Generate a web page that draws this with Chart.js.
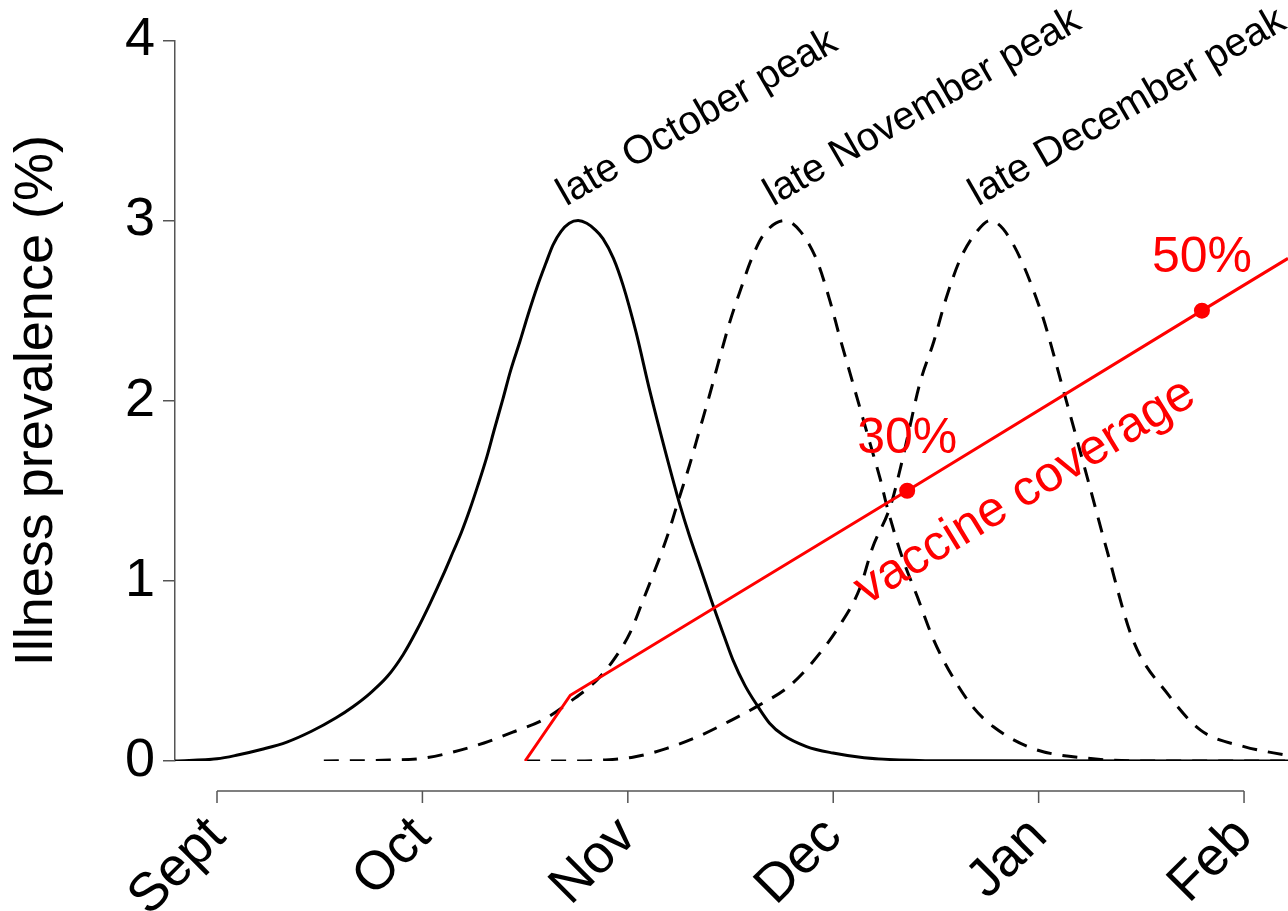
<!DOCTYPE html>
<html>
<head>
<meta charset="utf-8">
<script src="https://cdn.jsdelivr.net/npm/chart.js@4/dist/chart.umd.min.js"></script>
<style>
  html, body { margin: 0; padding: 0; background: #fff; }
  canvas { display: block; }
</style>
</head>
<body>
<canvas id="grafico" width="1288" height="911"></canvas>
<script>
// x values are months counted from 1 Sept
const monthNames = ['Sept', 'Oct', 'Nov', 'Dec', 'Jan', 'Feb'];
const monthTicks = [0, 1, 2, 3, 4, 5];

// late October peak (solid)
const octX = [-0.204, 0.0, 0.10, 0.22, 0.34, 0.46, 0.58, 0.66, 0.745, 0.83, 0.906, 0.97, 1.037, 1.10, 1.149, 1.19, 1.232, 1.27, 1.314, 1.35, 1.392, 1.43, 1.475, 1.515, 1.558, 1.60, 1.636, 1.675, 1.715, 1.758, 1.80, 1.84, 1.879, 1.93, 1.977, 2.04, 2.108, 2.18, 2.254, 2.30, 2.351, 2.424, 2.47, 2.512, 2.57, 2.629, 2.69, 2.756, 2.87, 2.999, 3.15, 3.325, 3.6, 5.214];
const octY = [0, 0.012, 0.033, 0.065, 0.105, 0.165, 0.24, 0.30, 0.376, 0.47, 0.59, 0.72, 0.874, 1.03, 1.16, 1.27, 1.40, 1.53, 1.69, 1.84, 2.01, 2.17, 2.33, 2.48, 2.63, 2.76, 2.865, 2.94, 2.985, 3.0, 2.985, 2.95, 2.90, 2.79, 2.64, 2.38, 2.05, 1.73, 1.42, 1.25, 1.08, 0.835, 0.69, 0.56, 0.42, 0.31, 0.21, 0.144, 0.08, 0.044, 0.018, 0.006, 0.001, 0];

// late November peak (dashed)
const novX = [0.52, 0.84, 1.00, 1.15, 1.30, 1.44, 1.59, 1.72, 1.85, 1.93, 2.01, 2.07, 2.19, 2.25, 2.30, 2.35, 2.40, 2.45, 2.50, 2.55, 2.60, 2.66, 2.765, 2.84, 2.92, 2.985, 3.03, 3.08, 3.13, 3.18, 3.23, 3.26, 3.33, 3.41, 3.49, 3.58, 3.68, 3.78, 3.97, 4.24, 4.60, 5.214];
const novY = [0, 0.005, 0.015, 0.05, 0.10, 0.16, 0.23, 0.33, 0.45, 0.56, 0.71, 0.88, 1.24, 1.46, 1.64, 1.84, 2.04, 2.25, 2.45, 2.62, 2.78, 2.92, 3.0, 2.94, 2.78, 2.55, 2.36, 2.16, 1.96, 1.76, 1.56, 1.42, 1.15, 0.91, 0.67, 0.47, 0.30, 0.19, 0.07, 0.015, 0, 0];

// late December peak (dashed)
const decX = [1.50, 1.72, 1.88, 2.03, 2.19, 2.35, 2.51, 2.64, 2.78, 2.90, 3.03, 3.13, 3.19, 3.28, 3.33, 3.37, 3.42, 3.49, 3.55, 3.62, 3.70, 3.763, 3.86, 4.01, 4.12, 4.24, 4.33, 4.46, 4.63, 4.79, 5.00, 5.214];
const decY = [0, 0, 0.005, 0.022, 0.07, 0.14, 0.23, 0.31, 0.41, 0.55, 0.75, 0.96, 1.18, 1.42, 1.64, 1.84, 2.09, 2.33, 2.57, 2.79, 2.94, 3.0, 2.90, 2.50, 2.06, 1.56, 1.18, 0.67, 0.37, 0.17, 0.08, 0.03];

// vaccine coverage (red)
const coverX = [1.5, 1.72, 3.36, 4.795, 5.214];
const coverY = [0, 0.365, 1.5, 2.5, 2.79];
const coverLabels = ['', '', '30%', '50%', ''];

const peakLabels = ['late October peak', 'late November peak', 'late December peak'];
const peakX = [1.758, 2.765, 3.763];
const peakY = [3, 3, 3];

const coverText = 'vaccine coverage';
const coverTextX = 3.934;
const coverTextY = 1.494;

const axisColor = '#555';
const red = '#ff0000';

Chart.defaults.font.family = '"Liberation Sans", Arial, sans-serif';
Chart.defaults.color = '#000';

function pts(xs, ys) {
    return xs.map((v, i) => ({ x: v, y: ys[i] }));
}

// eje x separado y etiquetas de texto
const decoraciones = {
    id: 'decoraciones',
    afterDraw(chart) {
        const { ctx, scales: { x, y } } = chart;
        const ay = chart.chartArea.bottom + 30;
        ctx.save();
        ctx.strokeStyle = axisColor;
        ctx.lineWidth = 1.5;
        ctx.beginPath();
        ctx.moveTo(x.getPixelForValue(monthTicks[0]), ay);
        ctx.lineTo(x.getPixelForValue(monthTicks[monthTicks.length - 1]), ay);
        monthTicks.forEach(v => {
            const px = x.getPixelForValue(v);
            ctx.moveTo(px, ay);
            ctx.lineTo(px, ay + 12);
        });
        ctx.stroke();

        // peak labels
        ctx.fillStyle = '#000';
        ctx.font = '40px "Liberation Sans", Arial, sans-serif';
        ctx.textAlign = 'left';
        ctx.textBaseline = 'alphabetic';
        peakLabels.forEach((t, i) => {
            ctx.save();
            ctx.translate(x.getPixelForValue(peakX[i]) - 12, y.getPixelForValue(peakY[i]) - 14);
            ctx.rotate(-30 * Math.PI / 180);
            ctx.fillText(t, 0, 0);
            ctx.restore();
        });

        // coverage labels
        ctx.fillStyle = red;
        ctx.font = '50px "Liberation Sans", Arial, sans-serif';
        ctx.textAlign = 'center';
        ctx.textBaseline = 'middle';
        coverLabels.forEach((t, i) => {
            if (!t) return;
            ctx.fillText(t, x.getPixelForValue(coverX[i]), y.getPixelForValue(coverY[i]) - 52);
        });
        ctx.save();
        ctx.translate(x.getPixelForValue(coverTextX), y.getPixelForValue(coverTextY));
        ctx.rotate(-31.5 * Math.PI / 180);
        ctx.fillText(coverText, 0, 0);
        ctx.restore();
        ctx.restore();
    }
};

const ctx = document.getElementById('grafico').getContext('2d');
new Chart(ctx, {
    type: 'line',
    data: {
        datasets: [
            {
                label: 'vaccine coverage',
                data: pts(coverX, coverY),
                borderColor: red,
                borderWidth: 3,
                tension: 0,
                pointRadius: coverLabels.map(l => l ? 8 : 0),
                pointBackgroundColor: red,
                pointBorderWidth: 0
            },
            {
                label: 'late October peak',
                data: pts(octX, octY),
                borderColor: '#000',
                borderWidth: 3,
                tension: 0.4,
                cubicInterpolationMode: 'monotone',
                pointRadius: 0
            },
            {
                label: 'late November peak',
                data: pts(novX, novY),
                borderColor: '#000',
                borderWidth: 3,
                borderDash: [15, 11],
                tension: 0.4,
                cubicInterpolationMode: 'monotone',
                pointRadius: 0
            },
            {
                label: 'late December peak',
                data: pts(decX, decY),
                borderColor: '#000',
                borderWidth: 3,
                borderDash: [15, 11],
                tension: 0.4,
                cubicInterpolationMode: 'monotone',
                pointRadius: 0
            }
        ]
    },
    options: {
        responsive: false,
        animation: false,
        devicePixelRatio: 1,
        events: [],
        layout: { padding: { top: 38, right: 0, left: 0, bottom: 0 } },
        plugins: {
            legend: { display: false },
            tooltip: { enabled: false }
        },
        scales: {
            x: {
                type: 'linear',
                min: -0.2045,
                max: 5.214,
                afterBuildTicks: s => { s.ticks = monthTicks.map(v => ({ value: v })); },
                ticks: {
                    autoSkip: false,
                    minRotation: 45,
                    maxRotation: 45,
                    padding: 44,
                    font: { size: 54 },
                    color: '#000',
                    callback: (v, i) => monthNames[i]
                },
                grid: { display: false, drawTicks: false },
                border: { display: false },
                afterFit: s => { s.height = 150; s.paddingLeft = 0; s.paddingRight = 0; }
            },
            y: {
                min: 0,
                max: 4,
                ticks: { stepSize: 1, padding: 8, font: { size: 54 }, color: '#000' },
                grid: { drawOnChartArea: false, tickLength: 12, color: axisColor, lineWidth: 1.5 },
                border: { color: axisColor, width: 1.5 },
                title: {
                    display: true,
                    text: 'Illness prevalence (%)',
                    font: { size: 54 },
                    color: '#000',
                    padding: { top: 5, bottom: 0 }
                },
                afterFit: s => { s.width = 175; }
            }
        }
    },
    plugins: [decoraciones]
});
</script>
</body>
</html>
